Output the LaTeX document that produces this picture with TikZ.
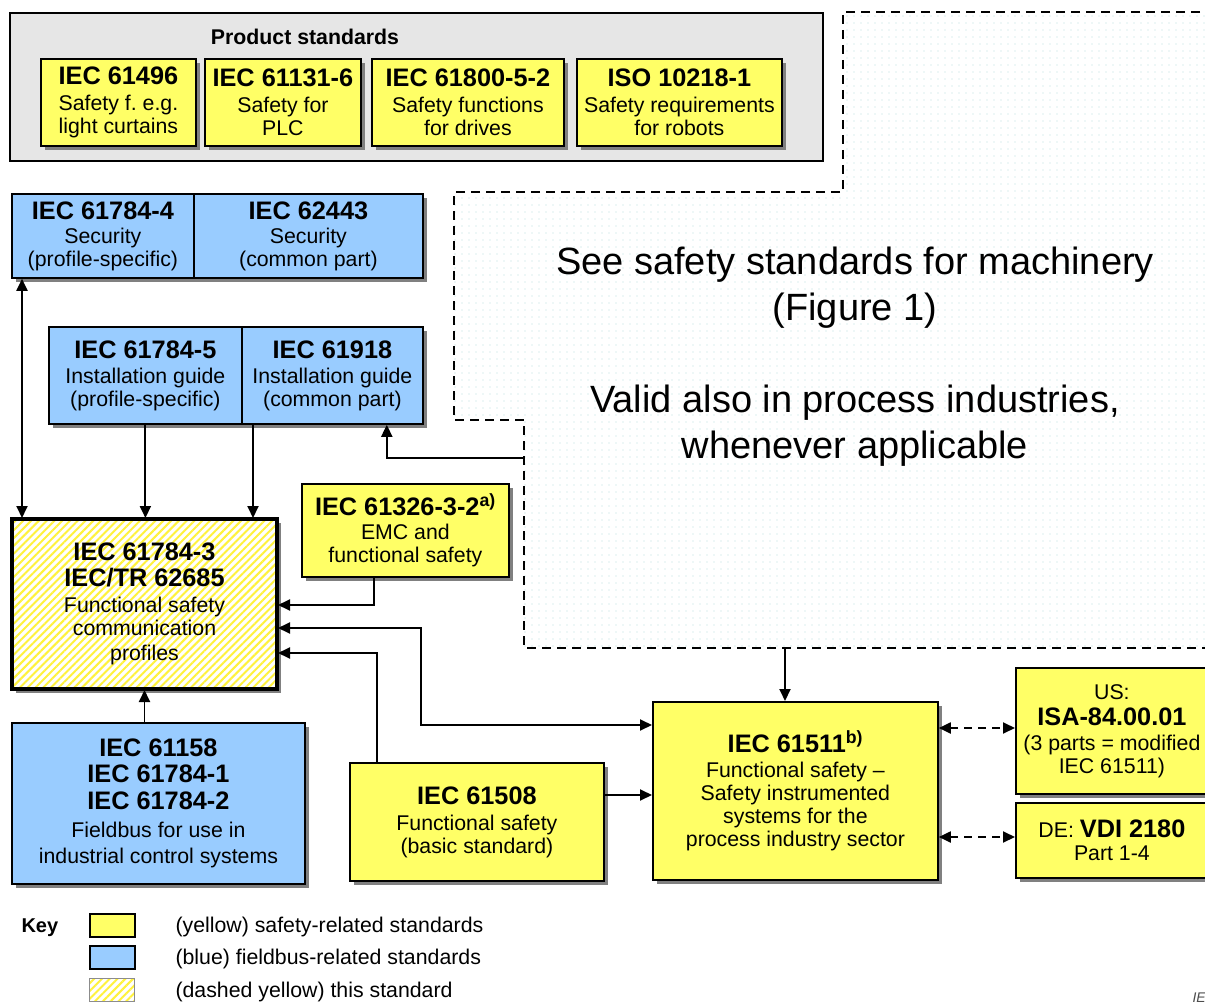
\documentclass[tikz,border=0pt]{standalone}
\usepackage{fontspec}
\setmainfont{Liberation Sans}
\usetikzlibrary{arrows.meta,shadows,patterns.meta}
\definecolor{yfill}{HTML}{FFFF66}
\definecolor{bfill}{HTML}{99CCFF}
\definecolor{gfill}{HTML}{E6E6E6}
\definecolor{hatchy}{HTML}{FFF23C}
\definecolor{dotc}{HTML}{B8DEDE}
\newcommand{\ttl}[1]{{\fontsize{25.3}{27}\bfseries\selectfont #1}}
\frenchspacing
\begin{document}
\begin{tikzpicture}[x=1pt,y=-1pt,
  box/.style={draw=black, line width=1.8pt, anchor=north west, inner sep=0pt, align=center,
    font=\fontsize{21.3}{23}\selectfont,
    drop shadow={shadow xshift=4pt, shadow yshift=-4pt, fill=black!50, opacity=1}},
  ybox/.style={box, fill=yfill},
  bbox/.style={box, fill=bfill},
  hatchfill/.style={preaction={fill=white}, pattern={Lines[angle=45,distance=5.5pt,line width=2pt]}, pattern color=hatchy},
  con/.style={line width=1.9pt, -{Triangle[length=12pt,width=11pt]}},
  con2/.style={line width=1.9pt, {Triangle[length=12pt,width=11pt]}-{Triangle[length=12pt,width=11pt]}},
  dcon/.style={con2, dash pattern=on 8pt off 6pt},
  keytext/.style={anchor=west, font=\fontsize{21.3}{23}\selectfont},
]
\useasboundingbox (0,0) rectangle (1205,1003);
\clip (0,0) rectangle (1205,1003);
\fill[white] (0,0) rectangle (1205,1003);

% dashed region (machinery standards)
\path[pattern={Dots[distance=7pt,radius=0.7pt]}, pattern color=dotc]
  (1215,12) -- (843,12) -- (843,192) -- (454,192) -- (454,420) -- (524,420) -- (524,648) -- (1215,648) -- cycle;
\draw[line width=1.8pt, dash pattern=on 9pt off 6pt]
  (1215,12) -- (843,12) -- (843,192) -- (454,192) -- (454,420) -- (524,420) -- (524,648) -- (1215,648);
\node[align=center, font=\fontsize{38}{46}\selectfont] (see) at (855,357)
  {See safety standards for machinery\\ (Figure 1)\\[46pt] Valid also in process industries,\\ whenever applicable};
\coordinate (dsh1) at (524,458);
\coordinate (dsh2) at (785,648);

% product standards
\node[draw=black, line width=1.8pt, fill=gfill, anchor=north west, minimum width=813pt, minimum height=148pt, inner sep=0pt] (prod) at (9,12) {};
\node[font=\fontsize{21.3}{23}\bfseries\selectfont] (prodt) at (305,37) {Product standards};
\node[ybox, minimum width=155pt, minimum height=87pt] (p1) at (40,58) {\ttl{IEC 61496}\\[3pt] Safety f. e.g.\\ light curtains};
\node[ybox, minimum width=156pt, minimum height=87pt] (p2) at (204,58) {\ttl{IEC 61131-6}\\[3pt] Safety for\\ PLC};
\node[ybox, minimum width=192pt, minimum height=87pt] (p3) at (371,58) {\ttl{IEC 61800-5-2}\\[3pt] Safety functions\\ for drives};
\node[ybox, minimum width=205pt, minimum height=87pt] (p4) at (576,58) {\ttl{ISO 10218-1}\\[3pt] Safety requirements\\ for robots};

% security
\node[bbox, minimum width=182pt, minimum height=84pt] (sec4) at (11,193) {\ttl{IEC 61784-4}\\[1pt] Security\\ (profile-specific)};
\node[bbox, minimum width=229pt, minimum height=84pt] (sec62443) at (193,193) {\ttl{IEC 62443}\\[1pt] Security\\ (common part)};

% installation
\node[bbox, minimum width=193pt, minimum height=97pt] (inst5) at (48,326) {\ttl{IEC 61784-5}\\[2pt] Installation guide\\ (profile-specific)};
\node[bbox, minimum width=181pt, minimum height=97pt] (i61918) at (241,326) {\ttl{IEC 61918}\\[2pt] Installation guide\\ (common part)};

% main (this standard)
\node[box, line width=4.5pt, hatchfill, minimum width=265pt, minimum height=170pt] (main) at (11,518)
  {\ttl{IEC 61784-3}\\[3pt] \ttl{IEC/TR 62685}\\[3pt] Functional safety\\ communication\\[2pt] profiles};

% EMC
\node[ybox, minimum width=207pt, minimum height=93pt] (emc) at (301,483) {\ttl{IEC 61326-3-2\textsuperscript{a)}}\\[1pt] EMC and\\ functional safety};

% fieldbus
\node[bbox, minimum width=293pt, minimum height=161pt] (fb) at (11,722)
  {\ttl{IEC 61158}\\[3pt] \ttl{IEC 61784-1}\\[4pt] \ttl{IEC 61784-2}\\[5pt] Fieldbus for use in\\[3pt] industrial control systems};

% IEC 61508
\node[ybox, minimum width=254pt, minimum height=118pt] (iec61508) at (349,762) {\ttl{IEC 61508}\\[3pt] Functional safety\\ (basic standard)};

% IEC 61511
\node[ybox, minimum width=285pt, minimum height=178pt] (sis) at (652,701)
  {\ttl{IEC 61511\textsuperscript{b)}}\\[2pt] Functional safety --\\ Safety instrumented\\ systems for the\\ process industry sector};

% ISA and VDI
\node[ybox, minimum width=192pt, minimum height=126pt] (isa) at (1015,667) {US:\\[3pt] \ttl{ISA-84.00.01}\\[2pt] (3 parts = modified\\ IEC 61511)};
\node[ybox, minimum width=192pt, minimum height=75pt] (vdi) at (1015,802) {DE: \ttl{VDI 2180}\\ Part 1-4};

% connectors
\draw[con2] ([xshift=11pt]sec4.south west) -- ([xshift=11pt]main.north west);
\draw[con] (inst5.south) -- (inst5.south |- main.north);
\draw[con] ([xshift=12pt]i61918.south west) -- ([xshift=12pt]i61918.south west |- main.north);
\draw[con] (dsh1) -| ([xshift=-37pt]i61918.south east);
\draw[con] ([xshift=73pt]emc.south west) |- (main.east |- 0,605);
\draw[con2] (main.east |- 0,628) -- (421,628) -- (421,725) -- (sis.west |- 0,725);
\draw[con] ([xshift=28pt]iec61508.north west) |- (main.east |- 0,653);
\draw[con] (iec61508.east |- 0,795) -- (sis.west |- 0,795);
\draw[con] (main.south |- fb.north) -- (main.south);
\draw[con] (dsh2) -- (dsh2 |- sis.north);
\draw[dcon] (sis.east |- 0,728) -- (isa.west |- 0,728);
\draw[dcon] (sis.east |- 0,837) -- (vdi.west |- 0,837);

% key
\node[anchor=west, font=\fontsize{20}{22}\bfseries\selectfont] (keyl) at (18,928) {Key};
\node[draw=black, line width=1.5pt, fill=yfill, minimum width=45pt, minimum height=23pt, anchor=north west, inner sep=0pt] (ky) at (89,913) {};
\node[draw=black, line width=1.5pt, fill=bfill, minimum width=45pt, minimum height=23pt, anchor=north west, inner sep=0pt] (kb) at (89,945) {};
\node[draw=black!45, line width=1.2pt, hatchfill, minimum width=45pt, minimum height=23pt, anchor=north west, inner sep=0pt] (kh) at (89,978) {};
\node[keytext] (kyt) at (172,927) {(yellow) safety-related standards};
\node[keytext] (kbt) at (172,959) {(blue) fieldbus-related standards};
\node[keytext] (kht) at (172,992) {(dashed yellow) this standard};
\node[anchor=base west, font=\fontsize{14}{16}\itshape\selectfont, text=black!70] (ie) at (1189,1002) {IE};
\end{tikzpicture}
\end{document}
